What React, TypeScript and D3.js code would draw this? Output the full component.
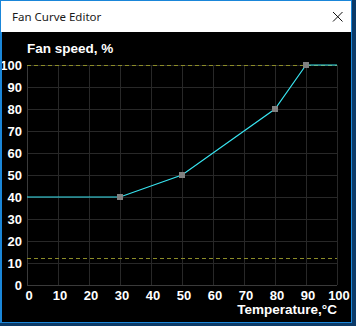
import React from "react";
import * as d3 from "d3";

const curveTemps = [0, 30, 50, 80, 90, 100];
const curveSpeeds = [40, 40, 50, 80, 100, 100];
const pointTemps = [30, 50, 80, 90];
const pointSpeeds = [40, 50, 80, 100];
const xTickValues = [0, 10, 20, 30, 40, 50, 60, 70, 80, 90, 100];
const yTickValues = [0, 10, 20, 30, 40, 50, 60, 70, 80, 90, 100];
const limitLines = [100, 12];

const W = 356;
const H = 326;

export default function App() {
  const x = d3.scaleLinear().domain([0, 100]).range([27, 337]);
  const y = d3.scaleLinear().domain([0, 100]).range([285, 65]);
  const line = d3
    .line<number>()
    .x((_, i) => x(curveTemps[i]))
    .y((d) => y(d));
  const font = "'Liberation Sans', Arial, sans-serif";
  return (
    <svg
      width={W}
      height={H}
      style={{ position: "absolute", left: 0, top: 0, display: "block" }}
    >
      {/* desktop / window frame */}
      <rect x={0} y={0} width={W} height={H} fill="#0b3a68" />
      <rect x={0} y={0} width={352} height={323} fill="#1a86d9" />
      <rect x={1} y={1} width={350} height={31} fill="#ffffff" />
      <rect x={1} y={32} width={350} height={290} fill="#000000" />
      <text
        x={12}
        y={21}
        fontFamily="'Noto Sans', 'Open Sans', sans-serif"
        fontSize={11.5}
        fill="#1a1a1a"
      >
        Fan Curve Editor
      </text>
      <g stroke="#111" strokeWidth={1}>
        <line x1={333} y1={12} x2={342.5} y2={21.5} />
        <line x1={342.5} y1={12} x2={333} y2={21.5} />
      </g>

      {/* grid */}
      <g stroke="#282828" strokeWidth={1} shapeRendering="crispEdges">
        {xTickValues.map((v) => (
          <line key={"gx" + v} x1={x(v)} x2={x(v)} y1={y(100)} y2={y(0)} />
        ))}
        {yTickValues.map((v) => (
          <line key={"gy" + v} x1={x(0)} x2={x(100)} y1={y(v)} y2={y(v)} />
        ))}
      </g>
      <g stroke="#3a3a3a" strokeWidth={1} shapeRendering="crispEdges">
        <line x1={x(0)} x2={x(0)} y1={y(100)} y2={y(0)} />
        <line x1={x(0)} x2={x(100)} y1={y(0)} y2={y(0)} />
      </g>

      {/* limit lines */}
      <g stroke="#8c8c28" strokeWidth={1} strokeDasharray="4,3" shapeRendering="crispEdges">
        {limitLines.map((v) => (
          <line key={"l" + v} x1={x(0)} x2={x(100)} y1={y(v)} y2={y(v)} />
        ))}
      </g>

      {/* curve */}
      <path
        d={line(curveSpeeds) || ""}
        fill="none"
        stroke="#38e4f0"
        strokeWidth={1.2}
      />
      {pointTemps.map((t, i) => (
        <rect
          key={"p" + t}
          x={x(t) - 3}
          y={y(pointSpeeds[i]) - 3}
          width={6}
          height={6}
          fill="#808080"
        />
      ))}

      {/* y tick labels */}
      {yTickValues.map((v) => (
        <text
          key={"ty" + v}
          x={22}
          y={y(v) + 4.5}
          textAnchor="end"
          fontFamily={font}
          fontWeight="bold"
          fontSize={13}
          fill="#ffffff"
        >
          {v}
        </text>
      ))}
      {/* x tick labels */}
      {xTickValues.map((v) => (
        <text
          key={"tx" + v}
          x={x(v) + 2}
          y={300}
          textAnchor="middle"
          fontFamily={font}
          fontWeight="bold"
          fontSize={13}
          fill="#ffffff"
        >
          {v}
        </text>
      ))}
      <text
        x={27}
        y={53}
        fontFamily={font}
        fontWeight="bold"
        fontSize={13.5}
        fill="#ffffff"
      >
        Fan speed, %
      </text>
      <text
        x={337}
        y={314}
        textAnchor="end"
        fontFamily={font}
        fontWeight="bold"
        fontSize={13.5}
        fill="#ffffff"
      >
        Temperature,°C
      </text>
      {/* left frame over clipped label */}
      <rect x={0} y={32} width={2} height={291} fill="#1a86d9" />
    </svg>
  );
}
